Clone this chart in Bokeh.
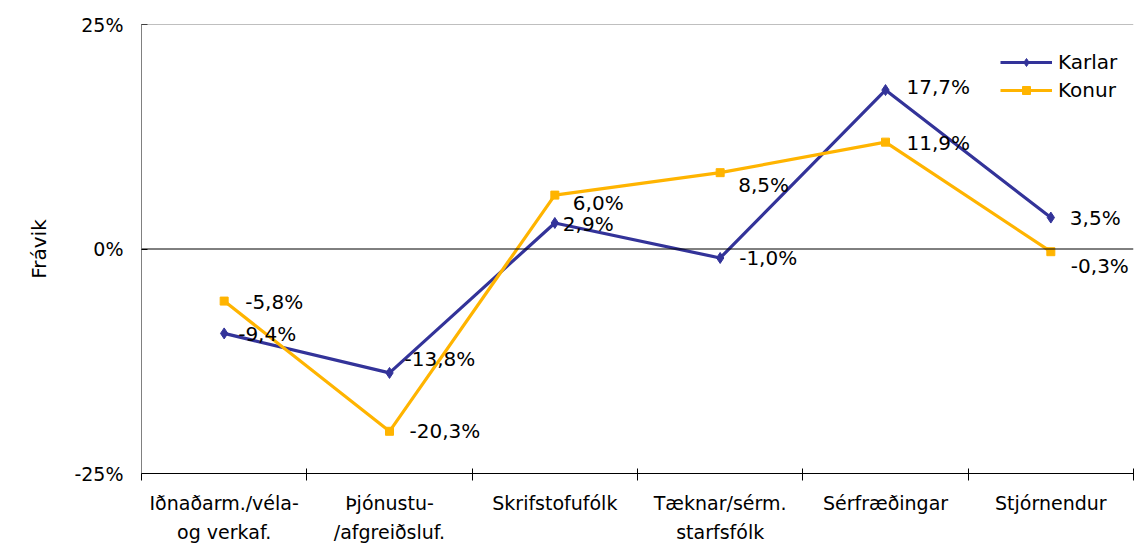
from bokeh.plotting import figure
from bokeh.models import Range1d, FixedTicker, Span, Legend, LegendItem, ColumnDataSource
from bokeh.embed import file_html
from bokeh.resources import INLINE
from bokeh.core.properties import value

# ---- data ----
categories = ["Iðnaðarm./véla-\nog verkaf.", "Þjónustu-\n/afgreiðsluf.", "Skrifstofufólk",
              "Tæknar/sérm.\nstarfsfólk", "Sérfræðingar", "Stjórnendur"]
karlar = [-9.4, -13.8, 2.9, -1.0, 17.7, 3.5]
konur = [-5.8, -20.3, 6.0, 8.5, 11.9, -0.3]
y_ticks = [-25, 0, 25]
y_tick_labels = ["-25%", "0%", "25%"]

# label nudges (style only, screen px)
karlar_dx = [14, 15, 8, 19, 21, 19]
karlar_dy = [1, -14, 1, 0, -3, 0]
konur_dx = [21, 20, 18, 18, 21, 20]
konur_dy = [1, 0, 8, 12, 1, 14]

FONT = "DejaVu Sans"
C_K = "#333399"
C_W = "#FFB400"

xs = [i + 0.5 for i in range(len(categories))]

def fmt(v):
    return f"{v:.1f}%".replace(".", ",")

p = figure(width=1136, height=546, output_backend="svg", toolbar_location=None,
           x_range=Range1d(0, len(categories)), y_range=Range1d(-25, 25),
           min_border_left=141, min_border_top=24, min_border_right=3, min_border_bottom=73)
p.outline_line_color = None
p.xgrid.visible = False
p.ygrid.visible = False

# y axis
p.yaxis.ticker = FixedTicker(ticks=y_ticks)
p.yaxis.major_label_overrides = {t: l for t, l in zip(y_ticks, y_tick_labels)}
p.yaxis.minor_tick_line_color = None
p.yaxis.major_tick_in = 6
p.yaxis.major_tick_out = 0
p.yaxis.axis_line_color = "#808080"
p.yaxis.major_tick_line_color = "#000000"
p.yaxis.major_label_text_font = FONT
p.yaxis.major_label_text_font_size = "19px"
p.yaxis.major_label_text_color = "#000000"
p.yaxis.major_label_standoff = 18
p.yaxis.axis_label = "Frávik"
p.yaxis.axis_label_text_font = FONT
p.yaxis.axis_label_text_font_size = "20px"
p.yaxis.axis_label_text_font_style = "normal"
p.yaxis.axis_label_text_color = "#000000"
p.yaxis.axis_label_standoff = 20

# x axis
p.xaxis.ticker = FixedTicker(ticks=xs, minor_ticks=list(range(len(categories) + 1)))
p.xaxis.major_label_overrides = {x: c for x, c in zip(xs, categories)}
p.xaxis.major_tick_line_color = None
p.xaxis.major_tick_in = 0
p.xaxis.major_tick_out = 0
p.xaxis.minor_tick_in = 5
p.xaxis.minor_tick_out = 7
p.xaxis.minor_tick_line_color = "#000000"
p.xaxis.axis_line_color = "#000000"
p.xaxis.major_label_text_font = FONT
p.xaxis.major_label_text_font_size = "19px"
p.xaxis.major_label_text_color = "#000000"
p.xaxis.major_label_text_line_height = 1.35
p.xaxis.major_label_standoff = 11

p.add_layout(Span(location=25, dimension="width", line_color="#808080", line_width=1))
p.add_layout(Span(location=0, dimension="width", line_color="#000000", line_width=1))

src_k = ColumnDataSource(dict(x=xs, y=karlar, t=[fmt(v) for v in karlar], dx=karlar_dx, dy=karlar_dy))
src_w = ColumnDataSource(dict(x=xs, y=konur, t=[fmt(v) for v in konur], dx=konur_dx, dy=konur_dy))

lk = p.line("x", "y", source=src_k, line_color=C_K, line_width=3.2)
mk = p.scatter("x", "y", source=src_k, marker="diamond", size=11, fill_color=C_K, line_color=C_K)
lw = p.line("x", "y", source=src_w, line_color=C_W, line_width=3.2)
mw = p.scatter("x", "y", source=src_w, marker="square", size=8, fill_color=C_W, line_color=C_W)

for src in (src_k, src_w):
    p.text("x", "y", text="t", source=src, x_offset="dx", y_offset="dy",
           text_align="left", text_baseline="middle", text_font=value(FONT),
           text_font_size="20px", text_color="#000000")

legend = Legend(items=[LegendItem(label="Karlar", renderers=[lk, mk]),
                       LegendItem(label="Konur", renderers=[lw, mw])],
                location=(859, 371), border_line_color=None, background_fill_alpha=0,
                label_text_font=FONT, label_text_font_size="20px", label_text_color="#000000",
                glyph_width=52, glyph_height=20, label_height=20, spacing=4,
                label_standoff=6, padding=0, margin=0)
p.add_layout(legend)

open("out.html", "w").write(file_html(p, INLINE))
